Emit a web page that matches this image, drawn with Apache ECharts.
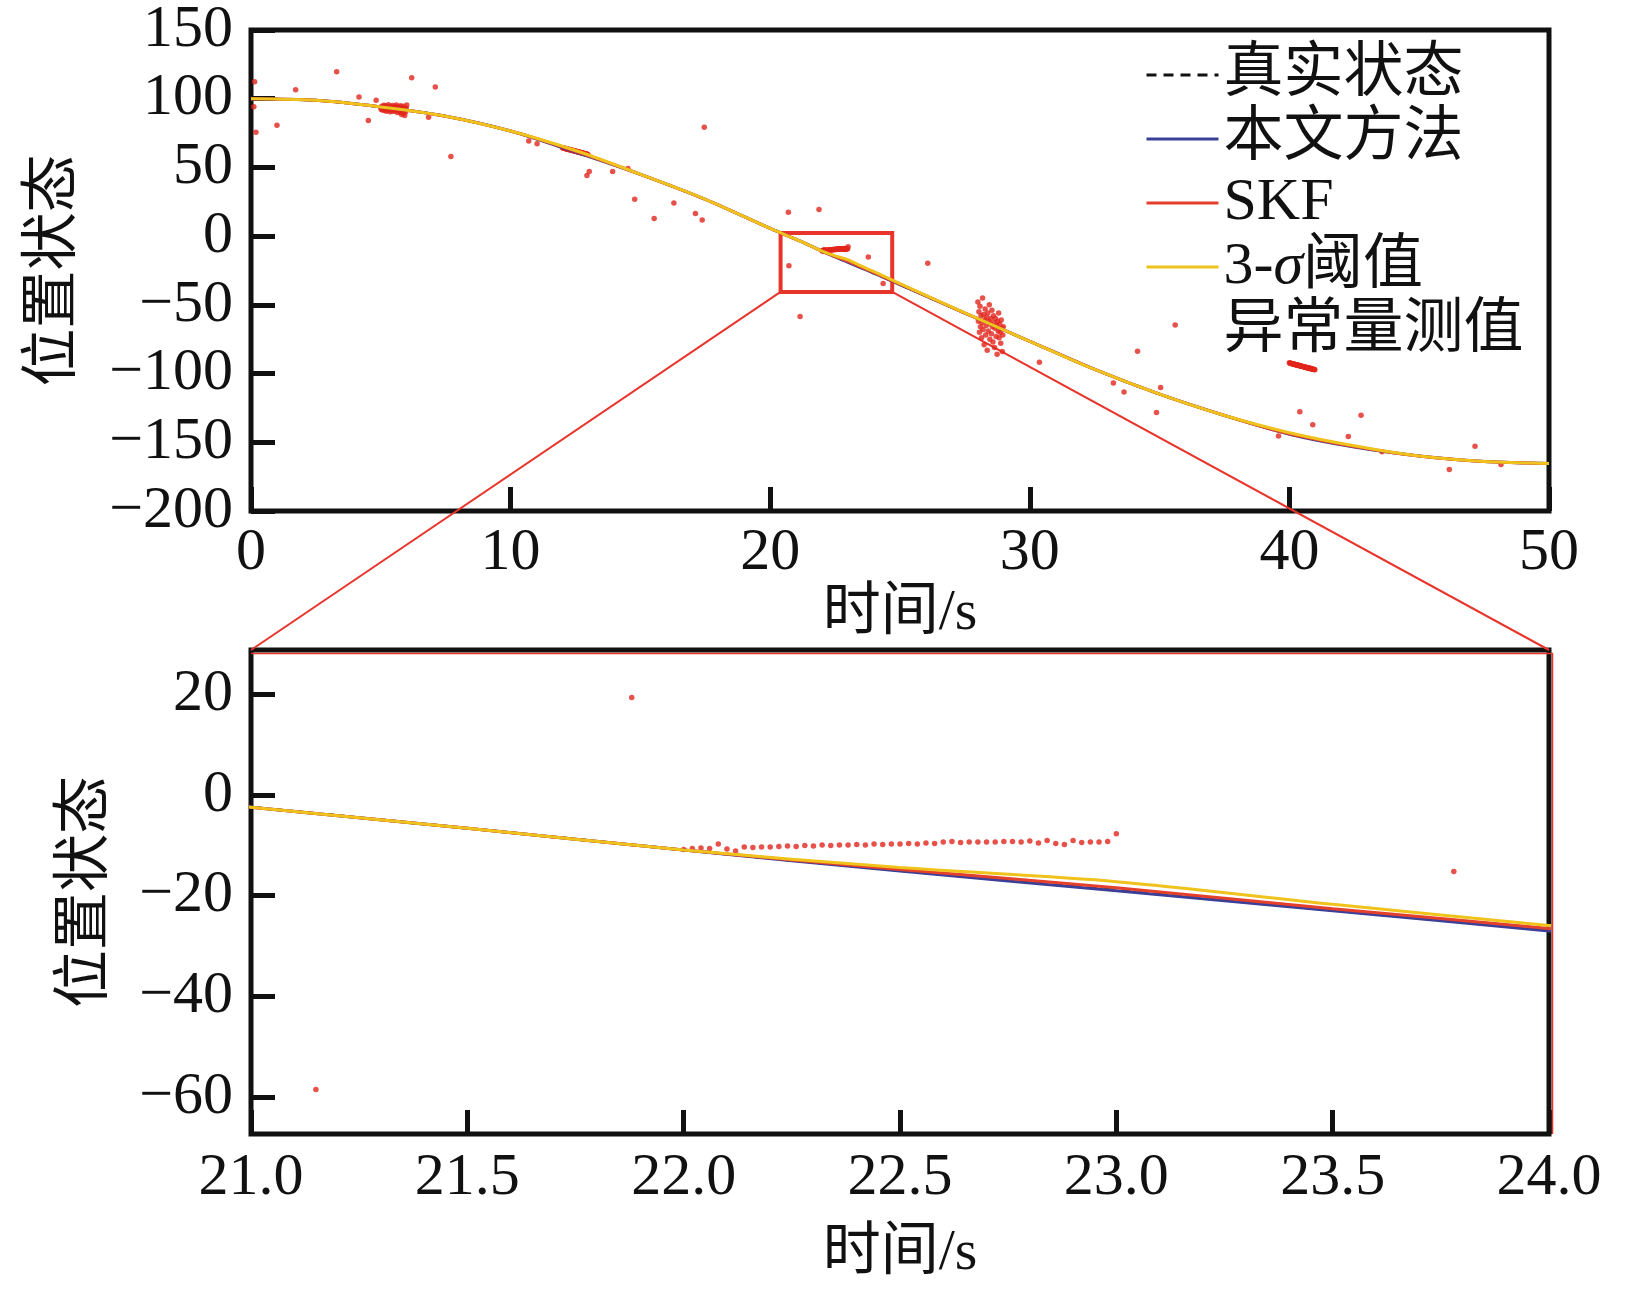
<!DOCTYPE html>
<html>
<head>
<meta charset="utf-8">
<script src="https://cdn.jsdelivr.net/npm/echarts@6/dist/echarts.min.js"></script>
<style>
html,body{margin:0;padding:0;background:#fff}
#chart{width:1631px;height:1299px}
</style>
</head>
<body>
<div id="chart"></div>
<script>
// 采样时间(s)
const timeS = [0, 2.5, 5, 7.5, 10, 12.5, 15, 17.5, 20, 21, 21.5, 22, 22.5, 23, 23.5, 24, 25, 27.5, 30, 32.5, 35, 37.5, 40, 42.5, 45, 47.5, 50];
// 真实状态
const truthV = [100, 98.8, 94, 87.3, 76.5, 62, 45, 26.8, 5.6, -2.4, -6.6, -10.9, -15.0, -18.9, -22.9, -26.9, -35.3, -56, -76.5, -97, -115, -130.5, -143.5, -153, -160, -164, -165.5];
// 本文方法
const oursV  = [100, 98.8, 94, 87.3, 76.5, 61.2, 45, 26.8, 5.6, -2.4, -6.6, -10.9, -15.1, -19.0, -23.0, -27.0, -35.3, -56, -76.5, -97, -115, -130.5, -144.2, -153.5, -160, -164, -165.5];
// SKF
const skfV   = [100, 98.8, 94, 87.3, 76.5, 61.8, 45, 26.8, 5.6, -2.4, -6.6, -10.9, -14.8, -18.4, -22.6, -26.5, -35.0, -56, -76.5, -97, -115, -130.5, -143.8, -153, -160, -164, -165.5];
// 3-sigma 阈值
const sigmaV = [100, 98.8, 94, 87.3, 76.5, 62.3, 45, 26.8, 5.6, -2.4, -6.6, -10.9, -14.4, -17.2, -21.7, -25.9, -34.6, -55.8, -76.5, -97, -115, -130.5, -143.0, -152.5, -160, -164, -165.5];

// 零星异常量测值 [t, v]
const isolatedPts = [
  [0.14, 112.3], [0.11, 94.2], [0.19, 75.6], [1.0, 80.7], [1.72, 106.5], [3.3, 119.6],
  [4.16, 101.2], [4.52, 84.1], [4.82, 98.8], [6.19, 115.2], [6.0, 95.4], [6.84, 86.5],
  [7.1, 108.5], [7.7, 58.0], [10.7, 69.3], [11.02, 67.2], [12.94, 44.2], [13.03, 47.1],
  [13.93, 47.1], [14.52, 49.3], [14.78, 26.8], [15.53, 12.8], [16.29, 24.1], [17.12, 16.4],
  [17.38, 11.8], [17.46, 79.2], [20.7, 17.4], [20.72, -21.5], [21.15, -58.5], [21.88, 19.4],
  [23.78, -15.2], [24.35, -34.5], [26.07, -19.8], [30.37, -91.8], [33.22, -106.8], [33.63, -113.5],
  [34.15, -83.8], [34.88, -128.3], [35.04, -110.2], [35.6, -64.7], [39.58, -145.4], [40.4, -127.8],
  [40.9, -137.2], [42.27, -145.7], [42.76, -130.4], [43.57, -156.8], [46.16, -169.8], [47.15, -152.9],
  [48.15, -166.2]
];

// 连续异常段, 采样间隔 0.02 s
const burstStart = [5.0, 12.0, 22.0, 28.0, 40.0];
const burst1 = [93.5,92.1,94.6,91.8,93.9,92.6,95.2,91.4,93.1,94.8,92.3,90.9,94.1,93.4,91.7,95.6,92.8,93.6,90.5,94.3,92.2,93.8,91.1,95.0,92.9,93.3,90.8,94.4,91.9,93.0,95.4,92.5,89.9,94.0,92.7,91.3,93.7,90.2,94.9,92.0,88.6,93.2,91.5,94.5,89.4,92.4,87.8,93.1,90.6,92.9];
const burst2 = [64.4,64.2,64.3,63.9,64.0,63.7,63.8,63.5,63.6,63.3,63.4,63.1,63.2,62.9,63.0,62.7,62.8,62.5,62.6,62.3,62.4,62.1,62.2,61.9,62.0,61.7,61.8,61.5,61.6,61.3,61.4,61.1,61.2,60.9,61.0,60.7,60.8,60.5,60.6,60.3,60.4,60.1,60.2,59.9,60.0,59.7,59.8,59.5,59.6,59.3];
const burst3 = [-10.8,-10.6,-10.5,-10.6,-9.7,-10.7,-11.1,-10.3,-10.4,-10.3,-10.3,-10.2,-10.1,-10.2,-10.0,-10.1,-9.9,-10.0,-9.9,-9.9,-9.8,-9.9,-9.7,-9.8,-9.7,-9.7,-9.6,-9.7,-9.5,-9.6,-9.3,-9.2,-9.4,-9.3,-9.3,-9.3,-9.3,-9.2,-9.2,-9.3,-9.1,-9.5,-9.0,-9.6,-9.8,-9.0,-9.4,-9.3,-9.3,-9.2,-7.7];
const burst4 = [-48,-62,-55,-70,-51,-66,-58,-74,-63,-45,-68,-57,-79,-61,-53,-72,-65,-59,-83,-56,-69,-62,-50,-75,-64,-60,-71,-54,-66,-77,-58,-63,-81,-67,-60,-73,-65,-86,-62,-69,-56,-74,-64,-70,-78,-61,-67,-84,-72,-66];
const burst5 = [-92.2,-92.5,-92.3,-92.7,-92.6,-92.9,-92.8,-93.1,-93.0,-93.3,-93.2,-93.5,-93.4,-93.7,-93.6,-93.9,-93.8,-94.1,-94.0,-94.3,-94.2,-94.5,-94.4,-94.7,-94.6,-94.9,-94.8,-95.1,-95.0,-95.3,-95.2,-95.5,-95.4,-95.7,-95.6,-95.9,-95.8,-96.1,-96.0,-96.3,-96.2,-96.5,-96.4,-96.7,-96.6,-96.9,-96.8,-97.1,-97.0,-97.3];

// 放大区域框 [t0, t1, vLow, vHigh]
const zoomBox = [20.4, 24.7, -40.6, 2.3];
// 下图范围
const zoomX = [21, 24];
const zoomY = [-67.36, 28.85];
const zoomYTicks = [-60, -40, -20, 0, 20];

const names = ['真实状态', '本文方法', 'SKF', '3-σ阈值', '异常量测值'];

const SERIF = '"Liberation Serif","Noto Sans CJK SC"';
const INK = '#111';

let pair = (vals) => timeS.map((t, i) => [t, vals[i]]);
let burst = (start, vals) => vals.map((v, i) => [+(start + i * 0.02).toFixed(2), v]);

let outliers = isolatedPts
  .concat(burst(burstStart[0], burst1))
  .concat(burst(burstStart[1], burst2))
  .concat(burst(burstStart[2], burst3))
  .concat(burst(burstStart[3], burst4))
  .concat(burst(burstStart[4], burst5));

let minus = (v) => String(v).replace('-', '\u2212');

function lines(idx) {
  let base = {
    type: 'line', xAxisIndex: idx, yAxisIndex: idx,
    symbol: 'none', showSymbol: false, smooth: 0.3,
    clip: true, silent: true, animation: false
  };
  let out = [
    Object.assign({}, base, {name: names[0], data: pair(truthV), lineStyle: {color: '#111', width: 2.5, type: [10, 7]}, itemStyle: {color: '#111'}}),
    Object.assign({}, base, {name: names[1], data: pair(oursV), lineStyle: {color: '#3b3f98', width: 3}, itemStyle: {color: '#3b3f98'}}),
    Object.assign({}, base, {name: names[2], data: pair(skfV), lineStyle: {color: '#e5402c', width: 3}, itemStyle: {color: '#e5402c'}}),
    Object.assign({}, base, {name: names[3], data: pair(sigmaV), lineStyle: {color: '#efc21c', width: 3}, itemStyle: {color: '#efc21c'}}),
    {
      type: 'scatter', name: names[4], xAxisIndex: idx, yAxisIndex: idx,
      data: outliers, symbolSize: 5.5, clip: true, silent: true, animation: false,
      itemStyle: {color: '#e2261c'}
    }
  ];
  if (idx === 0) {
    out[0].markArea = {
      silent: true,
      itemStyle: {color: 'rgba(0,0,0,0)', borderColor: '#e8352b', borderWidth: 4},
      data: [[{coord: [zoomBox[0], zoomBox[3]]}, {coord: [zoomBox[1], zoomBox[2]]}]]
    };
  }
  return out;
}

let tickStyle = {show: true, inside: true, length: 24, lineStyle: {color: INK, width: 5}};
let labelStyle = {color: INK, fontSize: 60, fontFamily: SERIF};
let nameStyle = {color: INK, fontSize: 58, fontFamily: SERIF};
let noLine = {show: false, onZero: false};

let myChart = echarts.init(document.getElementById('chart'));
myChart.setOption({
  backgroundColor: '#fff',
  animation: false,
  grid: [
    {left: 251, top: 28, width: 1298, height: 483, show: true, borderColor: INK, borderWidth: 5, backgroundColor: 'transparent'},
    {left: 251, top: 650, width: 1298, height: 484, show: true, borderColor: INK, borderWidth: 5, backgroundColor: 'transparent'}
  ],
  legend: {
    orient: 'vertical', left: 1140, top: 40,
    itemWidth: 72, itemHeight: 14, itemGap: 4,
    selectedMode: false,
    itemStyle: {opacity: 0},
    lineStyle: {width: 3},
    textStyle: {color: INK, fontSize: 60, fontFamily: SERIF, lineHeight: 60,
      rich: {i: {fontStyle: 'italic', fontSize: 60, fontFamily: SERIF, color: INK, lineHeight: 60}}},
    formatter: (n) => n === '3-σ阈值' ? '3-{i|σ}阈值' : n,
    data: [names[0], names[1], names[2], names[3], names[4]]
  },
  xAxis: [
    {
      type: 'value', gridIndex: 0, min: 0, max: 50, interval: 10,
      name: '时间/s', nameLocation: 'middle', nameGap: 74, nameTextStyle: nameStyle,
      axisLine: noLine, axisTick: tickStyle, splitLine: {show: false},
      axisLabel: Object.assign({margin: 12}, labelStyle)
    },
    {
      type: 'value', gridIndex: 1, min: zoomX[0], max: zoomX[1], interval: 0.5,
      name: '时间/s', nameLocation: 'middle', nameGap: 91, nameTextStyle: nameStyle,
      axisLine: noLine, axisTick: tickStyle, splitLine: {show: false},
      axisLabel: Object.assign({margin: 14, formatter: (v) => v.toFixed(1)}, labelStyle)
    }
  ],
  yAxis: [
    {
      type: 'value', gridIndex: 0, min: -200, max: 150, interval: 50,
      name: '位置状态', nameLocation: 'middle', nameGap: 167, nameRotate: 90, nameTextStyle: nameStyle,
      axisLine: noLine, axisTick: tickStyle, splitLine: {show: false},
      axisLabel: Object.assign({margin: 18, formatter: minus}, labelStyle)
    },
    {
      type: 'value', gridIndex: 1, min: zoomY[0], max: zoomY[1],
      name: '位置状态', nameLocation: 'middle', nameGap: 135, nameRotate: 90, nameTextStyle: nameStyle,
      axisLine: noLine,
      axisTick: Object.assign({customValues: zoomYTicks}, tickStyle),
      splitLine: {show: false},
      axisLabel: Object.assign({margin: 18, formatter: minus, customValues: zoomYTicks}, labelStyle)
    }
  ],
  series: lines(0).concat(lines(1))
});

// 放大框与下图之间的连接线
let a = myChart.convertToPixel({gridIndex: 0}, [zoomBox[0], zoomBox[2]]);
let b = myChart.convertToPixel({gridIndex: 0}, [zoomBox[1], zoomBox[2]]);
let c = myChart.convertToPixel({gridIndex: 1}, [zoomX[0], zoomY[1]]);
let d = myChart.convertToPixel({gridIndex: 1}, [zoomX[1], zoomY[1]]);
let red = {stroke: '#e8352b', lineWidth: 2};
myChart.setOption({
  graphic: [
    {type: 'line', silent: true, z: 1, shape: {x1: a[0], y1: a[1], x2: c[0], y2: c[1]}, style: red},
    {type: 'line', silent: true, z: 1, shape: {x1: b[0], y1: b[1], x2: d[0], y2: d[1]}, style: red},
    {type: 'polyline', silent: true, z: 1, shape: {points: [[c[0], c[1] + 3.5], [d[0] + 3.5, d[1] + 3.5], [d[0] + 3.5, d[1] + 484]]}, style: {stroke: '#e8352b', lineWidth: 1.5, fill: null}}
  ]
});
</script>
</body>
</html>
